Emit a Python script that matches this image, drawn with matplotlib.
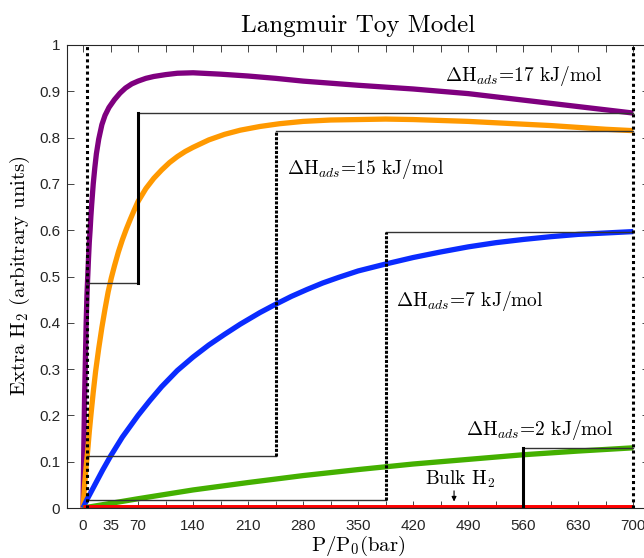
import matplotlib
matplotlib.use('Agg')
import matplotlib.pyplot as plt

plt.rcParams['mathtext.fontset'] = 'cm'
plt.rcParams['font.family'] = 'cmr10'
plt.rcParams['axes.formatter.use_mathtext'] = True

# ---------------- data ----------------
x_purple = [0, 1, 2, 3, 4, 5, 6, 7, 8, 9, 10, 11, 13, 15, 17, 20, 24, 28, 33, 40, 47, 54, 62, 70, 80, 90,
            105, 120, 140, 175, 210, 245, 280, 350, 420, 490, 560, 630, 700]
y_purple = [0, 0.13, 0.24, 0.32, 0.40, 0.46, 0.50, 0.54, 0.575, 0.60, 0.63, 0.655, 0.70, 0.735, 0.765,
            0.797, 0.828, 0.848, 0.865, 0.882, 0.896, 0.907, 0.916, 0.922, 0.928, 0.932, 0.936, 0.939,
            0.94, 0.937, 0.933, 0.928, 0.922, 0.913, 0.905, 0.895, 0.881, 0.867, 0.853]

x_orange = [0, 2, 4, 6, 8, 10, 13, 16, 20, 24, 28, 32, 36, 40, 45, 50, 55, 60, 65, 70, 80, 90, 100, 110,
            120, 130, 140, 160, 180, 200, 225, 250, 280, 315, 350, 385, 420, 455, 490, 525, 560, 595,
            630, 665, 700]
y_orange = [0, 0.05, 0.09, 0.125, 0.165, 0.2, 0.25, 0.295, 0.345, 0.39, 0.43, 0.467, 0.497, 0.523, 0.553,
            0.579, 0.602, 0.623, 0.643, 0.662, 0.69, 0.712, 0.73, 0.746, 0.759, 0.77, 0.779, 0.795,
            0.807, 0.816, 0.824, 0.83, 0.835, 0.838, 0.839, 0.84, 0.839, 0.837, 0.835, 0.832, 0.829,
            0.826, 0.822, 0.818, 0.815]

x_blue = [0, 5, 15, 25, 35, 50, 70, 85, 100, 120, 140, 160, 180, 200, 225, 245, 265, 285, 305, 325, 350,
          385, 420, 455, 490, 525, 560, 595, 630, 665, 700]
y_blue = [0, 0.018, 0.05, 0.082, 0.112, 0.153, 0.2, 0.232, 0.262, 0.297, 0.326, 0.352, 0.375, 0.397,
          0.422, 0.44, 0.457, 0.472, 0.486, 0.498, 0.512, 0.527, 0.541, 0.553, 0.564, 0.573, 0.58,
          0.586, 0.591, 0.594, 0.597]

x_green = [0, 70, 140, 210, 280, 350, 420, 490, 560, 630, 700]
y_green = [0, 0.02, 0.039, 0.055, 0.07, 0.083, 0.095, 0.105, 0.115, 0.123, 0.13]

x_bulk = [0, 700]
y_bulk = [0, 0]

# step guides: x of the vertical step, value at 5 bar, value at 700 bar
step_x = [70, 245, 385, 560]
step_low = [0.487, 0.113, 0.018, 0.0]
step_high = [0.853, 0.814, 0.597, 0.13]
step_dotted = [False, True, True, False]
p_low, p_high = 5, 700

labels = [r'$\Delta$H$_{ads}$=17 kJ/mol', r'$\Delta$H$_{ads}$=15 kJ/mol',
          r'$\Delta$H$_{ads}$=7 kJ/mol', r'$\Delta$H$_{ads}$=2 kJ/mol']
label_xy = [(460, 0.923), (259, 0.721), (398, 0.437), (487, 0.158)]

xticks = [0, 35, 70, 105, 140, 175, 210, 245, 280, 315, 350, 385, 420, 455, 490, 525, 560, 595, 630, 665, 700]
xticklabels = ['0', '35', '70', '', '140', '', '210', '', '280', '', '350', '', '420', '', '490', '',
               '560', '', '630', '', '700']
yticks = [0, 0.1, 0.2, 0.3, 0.4, 0.5, 0.6, 0.7, 0.8, 0.9, 1.0]
yticklabels = ['0', '0.1', '0.2', '0.3', '0.4', '0.5', '0.6', '0.7', '0.8', '0.9', '1']

# ---------------- figure ----------------
fig = plt.figure(figsize=(6.44, 5.58), dpi=100)
ax = fig.add_axes([67.3 / 644, 50 / 558, (649 - 67.3) / 644, 463 / 558])

lw_curve = 3.8
kw = dict(lw=lw_curve, zorder=2, solid_capstyle='butt', solid_joinstyle='round')
ax.plot(x_purple, y_purple, color='#7f007f', **kw)
ax.plot(x_orange, y_orange, color='#ff9900', **kw)
ax.plot(x_blue, y_blue, color='#0a2bff', **kw)
ax.plot(x_green, y_green, color='#44b000', **kw)
ax.plot(x_bulk, y_bulk, color='#ff0000', lw=5, zorder=2, solid_capstyle='butt')

for xs, lo, hi, dot in zip(step_x, step_low, step_high, step_dotted):
    ax.plot([p_low, xs], [lo, lo], color='0.2', lw=1.0, zorder=3)
    ax.plot([xs, p_high], [hi, hi], color='0.2', lw=1.0, zorder=3)
    ls = (0, (1, 0.5)) if dot else '-'
    ax.plot([xs, xs], [lo, hi], color='black', lw=2.2, ls=ls, zorder=4)

for xv in [p_low, p_high]:
    ax.plot([xv, xv], [0, 1], color='black', lw=2.2, ls=(0, (1, 1)), zorder=5)

for lab, (lx, ly) in zip(labels, label_xy):
    ax.text(lx, ly, lab, fontsize=14, ha='left', va='baseline', zorder=6)

ax.text(435, 0.0498, r'Bulk H$_2$', fontsize=14, ha='left', va='baseline', zorder=6)
ax.annotate('', xy=(472, 0.008), xytext=(472, 0.043),
            arrowprops=dict(arrowstyle='-|>', color='black', lw=0.8, mutation_scale=7), zorder=6)

ax.set_xlim(-20, 720)
ax.set_ylim(0, 1)
ax.set_xticks(xticks)
ax.set_xticklabels(xticklabels)
ax.set_yticks(yticks)
ax.set_yticklabels(yticklabels)
for t in ax.get_xticklabels() + ax.get_yticklabels():
    t.set_fontfamily('Liberation Sans')
    t.set_fontsize(11)
ax.tick_params(axis='x', direction='in', top=True, length=5, width=0.6, pad=8, colors='#262626')
ax.tick_params(axis='y', direction='in', right=True, length=5, width=0.6, pad=5, colors='#262626')
for s in ax.spines.values():
    s.set_linewidth(0.8)
    s.set_color('#262626')

ax.set_title('Langmuir Toy Model', fontsize=18, pad=9.5)
fig.text(358 / 644, 7 / 558, r'P/P$_0$(bar)', fontsize=15, ha='center', va='baseline')
fig.text(32 / 644, 1 - 276 / 558, r'Extra H$_2$ (arbitrary units)', fontsize=15,
         rotation=90, ha='right', va='center')

fig.savefig('out.png', dpi=100)
